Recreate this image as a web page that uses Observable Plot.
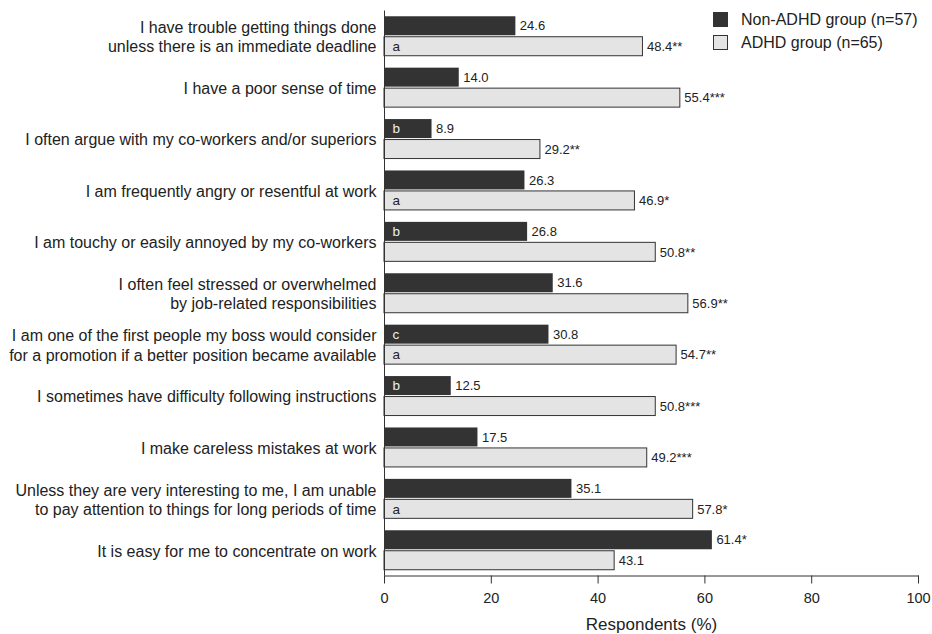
<!DOCTYPE html>
<html>
<head>
<meta charset="utf-8">
<script src="https://cdn.jsdelivr.net/npm/d3@7"></script>
<script src="https://cdn.jsdelivr.net/npm/@observablehq/plot@0.6"></script>
<style>
  html, body { margin: 0; padding: 0; background: #fff; }
  #wrap { position: relative; width: 932px; height: 634px; font-family: "Liberation Sans", Arial, sans-serif; color: #222; }
  #legend { position: absolute; left: 713px; top: 8px; font-size: 16px; line-height: 23px; }
  #legend .row { display: flex; align-items: center; }
  #legend .sw { width: 15px; height: 15px; box-sizing: border-box; margin-right: 13px; border: 1px solid #333; }
</style>
</head>
<body>
<div id="wrap">
  <div id="legend"></div>
</div>
<script>
// Survey items (top to bottom)
const items = [
  "I have trouble getting things done\nunless there is an immediate deadline",
  "I have a poor sense of time",
  "I often argue with my co-workers and/or superiors",
  "I am frequently angry or resentful at work",
  "I am touchy or easily annoyed by my co-workers",
  "I often feel stressed or overwhelmed\nby job-related responsibilities",
  "I am one of the first people my boss would consider\nfor a promotion if a better position became available",
  "I sometimes have difficulty following instructions",
  "I make careless mistakes at work",
  "Unless they are very interesting to me, I am unable\nto pay attention to things for long periods of time",
  "It is easy for me to concentrate on work"
];

// Percent of respondents agreeing, per group
const nonAdhd = [24.6, 14.0, 8.9, 26.3, 26.8, 31.6, 30.8, 12.5, 17.5, 35.1, 61.4];
const adhd    = [48.4, 55.4, 29.2, 46.9, 50.8, 56.9, 54.7, 50.8, 49.2, 57.8, 43.1];

// Significance stars and footnote letters
const nonAdhdStars = ["", "", "", "", "", "", "", "", "", "", "*"];
const adhdStars    = ["**", "***", "**", "*", "**", "**", "**", "***", "***", "*", ""];
const nonAdhdNotes = ["", "", "b", "", "b", "", "c", "b", "", "", ""];
const adhdNotes    = ["a", "", "", "a", "", "", "a", "", "", "a", ""];

const groupNames = ["Non-ADHD group (n=57)", "ADHD group (n=65)"];
const xTicks = [0, 20, 40, 60, 80, 100];
const xTitle = "Respondents (%)";

const DARK = "#333333", LIGHT = "#e4e4e4", INK = "#222";

const rows = items.map((item, i) => ({
  item,
  non: nonAdhd[i], adhd: adhd[i],
  nonLabel: d3.format(".1f")(nonAdhd[i]) + nonAdhdStars[i],
  adhdLabel: d3.format(".1f")(adhd[i]) + adhdStars[i],
  nonNote: nonAdhdNotes[i], adhdNote: adhdNotes[i]
}));

// Layout
const W = 932, H = 634;
const mT = 10.5, mB = 58.5, mL = 384, mR = 14;
const padIn = 0.232, padOut = 0.112;
const bw = d3.scaleBand().domain(items).range([mT, H - mB])
  .paddingInner(padIn).paddingOuter(padOut).bandwidth();
const barH = 19;
const inset = bw - barH;
const darkDy = -(bw / 2 - barH / 2);
const lightDy = bw / 2 - barH / 2;

const chart = Plot.plot({
  width: W, height: H,
  marginTop: mT, marginBottom: mB, marginLeft: mL, marginRight: mR,
  style: { fontFamily: "'Liberation Sans', Arial, sans-serif", fontSize: "14px", color: INK, background: "transparent", overflow: "visible" },
  x: { domain: [0, 100], axis: null },
  y: { domain: items, paddingInner: padIn, paddingOuter: padOut, round: false, axis: null },
  marks: [
    Plot.barX(rows, { x: "non", y: "item", fill: DARK, insetBottom: inset }),
    Plot.barX(rows, { x: "adhd", y: "item", fill: LIGHT, stroke: DARK, strokeWidth: 1, insetTop: inset }),
    Plot.ruleX([0], { stroke: DARK, strokeWidth: 1 }),
    Plot.frame({ anchor: "bottom", stroke: DARK, strokeWidth: 1 }),
    Plot.axisX({ ticks: xTicks, tickSize: 8, tickPadding: 9, fontSize: 14.5, stroke: DARK, label: null }),
    Plot.axisY({ tickSize: 0, tickPadding: 8, fontSize: 16, lineHeight: 1.2, label: null, fill: INK }),
    // value labels
    Plot.text(rows, { x: "non", y: "item", text: "nonLabel", dy: darkDy, dx: 4, textAnchor: "start", fontSize: 13, fill: INK }),
    Plot.text(rows, { x: "adhd", y: "item", text: "adhdLabel", dy: lightDy, dx: 4, textAnchor: "start", fontSize: 13, fill: INK }),
    // footnote letters inside bars
    Plot.text(rows, { x: 0, y: "item", text: "nonNote", dy: darkDy, dx: 8, textAnchor: "start", fontSize: 13.5, fill: "#eeeeee" }),
    Plot.text(rows, { x: 0, y: "item", text: "adhdNote", dy: lightDy, dx: 8, textAnchor: "start", fontSize: 13.5, fill: INK }),
    // axis title
    Plot.text([xTitle], { frameAnchor: "bottom", text: d => d, dy: 54, fontSize: 17, fill: INK })
  ]
});

const wrap = document.getElementById("wrap");
wrap.insertBefore(chart, wrap.firstChild);

// Legend
const legend = d3.select("#legend");
const swatchFills = [DARK, LIGHT];
groupNames.forEach((name, i) => {
  const row = legend.append("div").attr("class", "row");
  row.append("div").attr("class", "sw").style("background", swatchFills[i]);
  row.append("span").text(name);
});
</script>
</body>
</html>
